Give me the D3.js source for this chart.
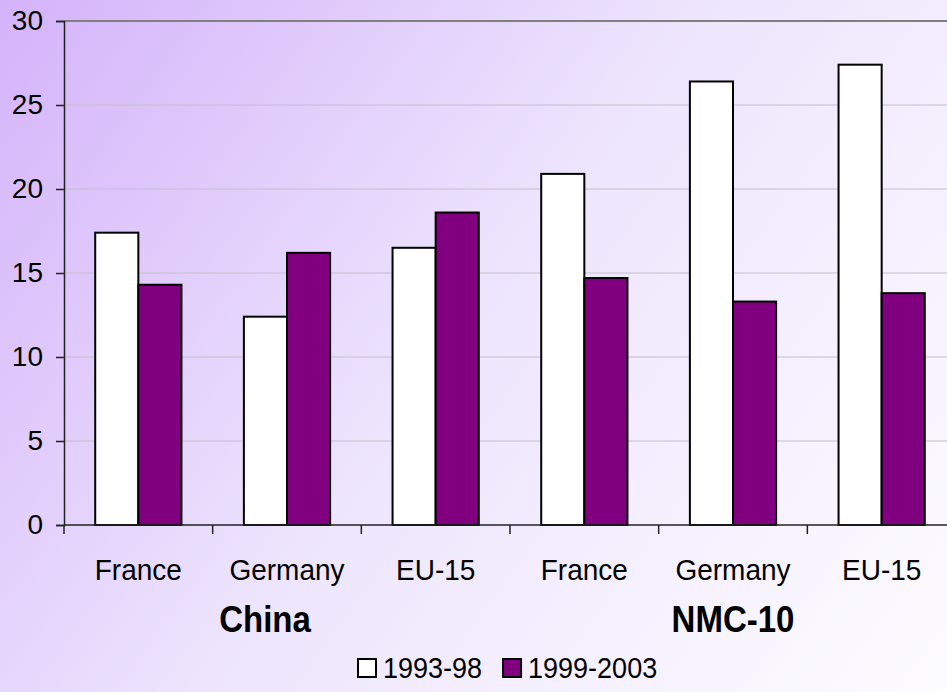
<!DOCTYPE html>
<html>
<head>
<meta charset="utf-8">
<script src="https://cdn.jsdelivr.net/npm/d3@7"></script>
<style>
  html, body { margin: 0; padding: 0; overflow: hidden; }
  svg { display: block; font-family: "Liberation Sans", Arial, sans-serif; }
</style>
</head>
<body>
<svg id="chart" width="947" height="692"></svg>
<script>
// Partner groups and the reporting economies shown under each
const groups = ["China", "NMC-10"];
const economies = ["France", "Germany", "EU-15"];
const seriesNames = ["1993-98", "1999-2003"];

// Values per (group, economy), in the order of `economies`
const china_1993_98   = [17.4, 12.4, 16.5];
const china_1999_2003 = [14.3, 16.2, 18.6];
const nmc_1993_98     = [20.9, 26.4, 27.4];
const nmc_1999_2003   = [14.7, 13.3, 13.8];

const yTicks = [0, 5, 10, 15, 20, 25, 30];
const seriesColors = ["#ffffff", "#800080"];

// Flat table of categories built from the arrays above
const rows = [];
groups.forEach((g, gi) => {
  const a = gi === 0 ? china_1993_98 : nmc_1993_98;
  const b = gi === 0 ? china_1999_2003 : nmc_1999_2003;
  economies.forEach((e, ei) => {
    rows.push({ key: g + "|" + e, group: g, label: e, values: [a[ei], b[ei]] });
  });
});

const svg = d3.select("#chart");
const W = 947, H = 692;

// Diagonal lavender-to-white backdrop
const defs = svg.append("defs");
const grad = defs.append("linearGradient")
  .attr("id", "bg").attr("gradientUnits", "userSpaceOnUse")
  .attr("x1", 0).attr("y1", 0).attr("x2", W).attr("y2", H);
grad.append("stop").attr("offset", 0).attr("stop-color", "#d4b3fa");
grad.append("stop").attr("offset", 0.5).attr("stop-color", "#eee6fd");
grad.append("stop").attr("offset", 1).attr("stop-color", "#fdfcff");
svg.append("rect").attr("width", W).attr("height", H).attr("fill", "url(#bg)");

const plot = { left: 64, right: 956, top: 21, bottom: 525 };

const x = d3.scaleBand()
  .domain(rows.map(r => r.key))
  .range([plot.left, plot.right])
  .paddingInner(0.42)
  .paddingOuter(0.21);

const xs = d3.scaleBand()
  .domain(seriesNames)
  .range([0, x.bandwidth()]);

const y = d3.scaleLinear()
  .domain([0, 30])
  .range([plot.bottom, plot.top]);

const step = x.step();

// Horizontal gridlines
svg.append("g")
  .selectAll("line")
  .data(yTicks.filter(t => t > 0 && t < 30))
  .join("line")
  .attr("x1", plot.left).attr("x2", plot.right)
  .attr("y1", d => y(d)).attr("y2", d => y(d))
  .attr("stroke", "#c4bfc8").attr("stroke-width", 1);

// Plot-area top border
svg.append("line")
  .attr("x1", plot.left).attr("x2", plot.right)
  .attr("y1", y(30)).attr("y2", y(30))
  .attr("stroke", "#808080").attr("stroke-width", 2);

// Bars
const barG = svg.append("g");
rows.forEach(r => {
  barG.selectAll(null)
    .data(r.values.map((v, i) => ({ v, s: seriesNames[i], i })))
    .join("rect")
    .attr("x", d => x(r.key) + xs(d.s))
    .attr("y", d => y(d.v))
    .attr("width", xs.bandwidth())
    .attr("height", d => y(0) - y(d.v))
    .attr("fill", d => seriesColors[d.i])
    .attr("stroke", "#000")
    .attr("stroke-width", 2);
});

// Y axis
const yAxis = d3.axisLeft(y)
  .tickValues(yTicks)
  .tickSize(8)
  .tickPadding(13)
  .tickFormat(d3.format("d"));
const yg = svg.append("g")
  .attr("transform", `translate(${plot.left},0)`)
  .call(yAxis);
yg.select(".domain").attr("stroke", "#222").attr("stroke-width", 1.5);
yg.selectAll(".tick line").attr("stroke", "#222").attr("stroke-width", 1.5);
yg.selectAll(".tick text")
  .attr("font-size", 28)
  .attr("fill", "#000")
  .attr("font-family", "Liberation Sans, Arial, sans-serif");

// X axis baseline and category separators
svg.append("line")
  .attr("x1", plot.left).attr("x2", plot.right)
  .attr("y1", y(0)).attr("y2", y(0))
  .attr("stroke", "#222").attr("stroke-width", 1.5);
const bounds = d3.range(rows.length + 1).map(i => plot.left + i * step);
svg.append("g")
  .selectAll("line")
  .data(bounds)
  .join("line")
  .attr("x1", d => d).attr("x2", d => d)
  .attr("y1", y(0)).attr("y2", y(0) + 9)
  .attr("stroke", "#222").attr("stroke-width", 1.5);

// Category labels
svg.append("g")
  .selectAll("text")
  .data(rows)
  .join("text")
  .attr("transform", d => `translate(${x(d.key) + x.bandwidth() / 2},580) scale(1,1.07)`)
  .attr("text-anchor", "middle")
  .attr("font-size", 28)
  .attr("fill", "#000")
  .text(d => d.label);

// Group labels, centred under each block of economies
const groupNudge = [-22, 0];
svg.append("g")
  .selectAll("text")
  .data(groups)
  .join("text")
  .attr("transform", (g, i) => {
    const mid = rows.filter(r => r.group === g)[1];
    return `translate(${x(mid.key) + x.bandwidth() / 2 + groupNudge[i]},632) scale(1,1.1)`;
  })
  .attr("text-anchor", "middle")
  .attr("font-size", 33)
  .attr("font-weight", "bold")
  .attr("fill", "#000")
  .text(g => g);

// Legend
const legend = svg.append("g").attr("transform", "translate(357,678)");
let lx = 0;
seriesNames.forEach((s, i) => {
  legend.append("rect")
    .attr("x", lx + 1).attr("y", -19)
    .attr("width", 18).attr("height", 18)
    .attr("fill", seriesColors[i])
    .attr("stroke", "#000").attr("stroke-width", 2);
  const t = legend.append("text")
    .attr("transform", `translate(${lx + 26},0) scale(1,1.07)`)
    .attr("font-size", 27)
    .attr("fill", "#000")
    .text(s);
  lx += 26 + t.node().getComputedTextLength() + 20;
});
</script>
</body>
</html>
